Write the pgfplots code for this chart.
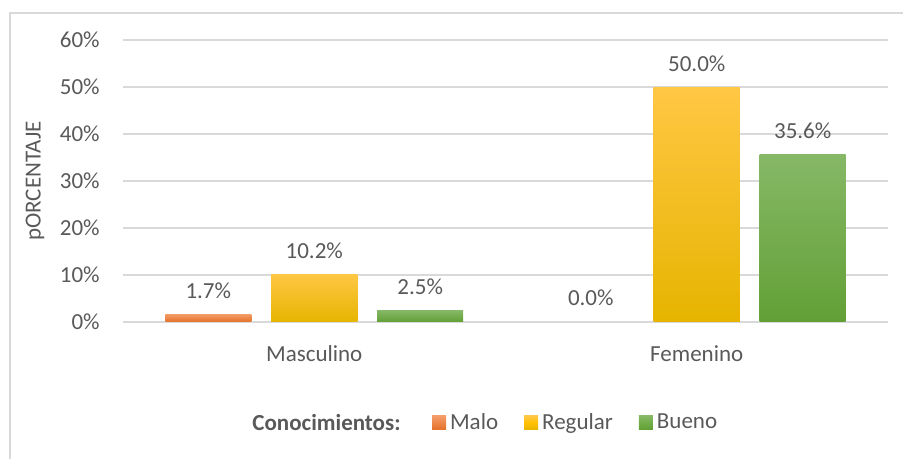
\documentclass[border=0pt]{standalone}
\usepackage{pgfplots}
\pgfplotsset{compat=1.18}
\usepackage{fontspec}
\setmainfont{Carlito}
\definecolor{gridgray}{RGB}{217,217,217}
\definecolor{txtgray}{RGB}{89,89,89}
\definecolor{orT}{RGB}{244,156,104}
\definecolor{orB}{RGB}{228,112,40}
\definecolor{yeT}{RGB}{255,199,68}
\definecolor{yeM}{RGB}{255,192,0}
\definecolor{yeB}{RGB}{230,180,0}
\definecolor{grT}{RGB}{134,184,102}
\definecolor{grM}{RGB}{112,173,71}
\definecolor{grB}{RGB}{98,160,54}
\pgfplotsset{
  malo/.style={draw=none, top color=orT, bottom color=orB, bar shift=-0.277,
    legend image code/.code={\fill[top color=orT, bottom color=orB] (0pt,-3.5pt) rectangle (7pt,3.5pt);}},
  regular/.style={draw=none, top color=yeT, middle color=yeM, bottom color=yeB, bar shift=0,
    legend image code/.code={\fill[top color=yeT, bottom color=yeB, middle color=yeM] (0pt,-3.5pt) rectangle (7pt,3.5pt);}},
  bueno/.style={draw=none, top color=grT, middle color=grM, bottom color=grB, bar shift=0.277,
    legend image code/.code={\fill[top color=grT, bottom color=grB, middle color=grM] (0pt,-3.5pt) rectangle (7pt,3.5pt);}},
}
\begin{document}
\begin{tikzpicture}[font=\fontsize{11.5}{13.5}\selectfont]
\useasboundingbox (0,0) rectangle (451.5pt,229.5pt);
\draw[gridgray, line width=0.8pt] (5pt,0) -- (5pt,223pt) -- (451.5pt,223pt);
\begin{axis}[
  at={(61.5pt,68.5pt)}, anchor=south west,
  scale only axis, width=382.5pt, height=141pt,
  xmin=-0.5, xmax=1.5, ymin=0, ymax=60,
  ybar, bar width=0.225,
  xtick={0,1}, xticklabels={Masculino,Femenino},
  ytick={0,10,...,60},
  yticklabel={\pgfmathprintnumber{\tick}\%},
  /pgf/number format/assume math mode=true,
  axis x line*=bottom, axis y line*=left,
  x axis line style={draw=gridgray, line width=0.8pt, -},
  y axis line style={draw=none},
  major tick style={draw=none},
  ymajorgrids, grid style={draw=gridgray, line width=0.8pt},
  tick label style={text=txtgray},
  yticklabel style={anchor=east, inner sep=0pt, xshift=-11.5pt},
  xticklabel style={anchor=base, inner sep=0pt, yshift=-15.5pt},
  nodes near coords={\pgfmathprintnumber[fixed,fixed zerofill,precision=1]{\pgfplotspointmeta}\%},
  every node near coord/.append style={text=txtgray, anchor=base, inner sep=0pt, yshift=8pt},
  legend columns=3,
  legend style={draw=none, fill=none, inner sep=0pt, outer sep=0pt,
    at={(0.404,-0.358)}, anchor=west, text=txtgray,
    /tikz/every odd column/.append style={column sep=0pt},
    /tikz/every even column/.append style={column sep=11pt}},
  clip=false,
]
\addplot[malo] coordinates {(0,1.7)};
\addlegendentry{Malo}
\addplot[regular] coordinates {(0,10.2)};
\addlegendentry{Regular}
\addplot[bueno] coordinates {(0,2.5)};
\addlegendentry{Bueno}
\addplot[draw=none, fill=none, bar shift=-0.277, forget plot] coordinates {(1,0.0)};
\addplot[regular, forget plot] coordinates {(1,50.0)};
\addplot[bueno, forget plot] coordinates {(1,35.6)};
\end{axis}
\node[rotate=90, text=txtgray, inner sep=0pt] at (17.5pt,139pt) {pORCENTAJE};
\node[anchor=east, inner sep=0pt, text=txtgray] at (200.5pt,18pt) {\textbf{Conocimientos:}};
\end{tikzpicture}
\end{document}
